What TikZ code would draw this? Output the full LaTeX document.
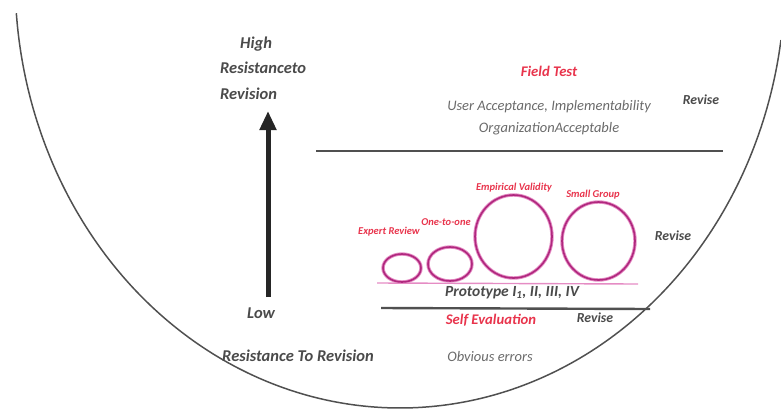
\documentclass[tikz,border=0pt]{standalone}
\usepackage{fontspec}
\setmainfont{Carlito}
\usetikzlibrary{arrows.meta}
\definecolor{txtgray}{HTML}{4A4A4A}
\definecolor{softgray}{HTML}{6A6A6A}
\definecolor{labred}{HTML}{E8344C}
\definecolor{loopmag}{HTML}{B0287E}
\definecolor{looppink}{HTML}{E58CC4}
\definecolor{linegray}{HTML}{505050}

\begin{document}
\begin{tikzpicture}[x=1pt, y=-1pt]
    \useasboundingbox (0,0) rectangle (781,410);
    \tikzstyle{every node}=[inner sep=0pt, text=txtgray, font=\fontsize{16.5}{25.5}\selectfont\bfseries\itshape]
    \tikzstyle{revise}=[font=\fontsize{13.8}{16}\selectfont\bfseries\itshape]
    \tikzstyle{stage}=[text=labred, font=\fontsize{14.7}{17}\selectfont\bfseries\itshape]
    \tikzstyle{looplabel}=[text=labred, font=\fontsize{10.5}{12}\selectfont\bfseries\itshape]
    \tikzstyle{note}=[text=softgray, font=\fontsize{14.5}{22}\selectfont\itshape]
    \tikzstyle{loop}=[draw=loopmag, line width=1.6pt]
    \tikzstyle{loophalo}=[draw=looppink, line width=3.4pt]
    \tikzstyle{rule}=[draw=linegray, line width=2.4pt]
    % bowl
    \draw[linegray, line width=1.5pt] plot[domain=8.3:175.3, samples=90, smooth] ({400+385*cos(\x)}, {-22+430*sin(\x)});
    % left side
    \node[anchor=west, align=left] (high) at (220,68) {\hspace*{20pt}High\\Resistanceto\\Revision};
    \node (low) at (261,313) {Low};
    \node (resist) at (298,356) {Resistance To Revision};
    \coordinate (arrbot) at (268,297);
    \coordinate (arrtop) at (268,111);
    \draw[-{Triangle[length=19pt, width=16pt]}, line width=5pt, black!85] (arrbot) -- (arrtop);
    % field test
    \node[stage] (field) at (549,71) {Field Test};
    \node[note, align=center] (user) at (549,118) {User Acceptance, Implementability\\OrganizationAcceptable};
    \node[revise] (revise1) at (701,100) {Revise};
    \coordinate (rule1a) at (316,151);
    \coordinate (rule1b) at (723,151);
    \draw[rule] (rule1a) -- (rule1b);
    % loops
    \coordinate (basea) at (377,283);
    \coordinate (baseb) at (638,284);
    \draw[looppink, line width=1.4pt] (basea) -- (baseb);
    \draw[loophalo] (402,268) ellipse [x radius=19, y radius=14];
    \draw[loop] (402,268) ellipse [x radius=19, y radius=14];
    \draw[loophalo] (450,264) ellipse [x radius=22, y radius=17];
    \draw[loop] (450,264) ellipse [x radius=22, y radius=17];
    \draw[loophalo] (513.5,236.5) ellipse [x radius=38.5, y radius=41.5];
    \draw[loop] (513.5,236.5) ellipse [x radius=38.5, y radius=41.5];
    \draw[loophalo] (598.5,241) ellipse [x radius=36.5, y radius=39];
    \draw[loop] (598.5,241) ellipse [x radius=36.5, y radius=39];
    \node[looplabel] (expert) at (389,232) {Expert Review};
    \node[looplabel] (onetoone) at (446,222) {One-to-one};
    \node[looplabel] (empirical) at (514,188) {Empirical Validity};
    \node[looplabel] (smallgroup) at (593,195) {Small Group};
    \node[revise] (revise2) at (673,236) {Revise};
    \node[font=\fontsize{15.5}{18}\selectfont\bfseries\itshape] (proto) at (512,293) {Prototype I\textsubscript{1}, II, III, IV};
    % self evaluation
    \coordinate (rule2a) at (381,308);
    \coordinate (rule2b) at (650,309);
    \draw[rule] (rule2a) -- (rule2b);
    \node[stage] (selfeval) at (491,320) {Self Evaluation};
    \node[revise] (revise3) at (595,318) {Revise};
    \node[note] (obvious) at (490,357) {Obvious errors};
\end{tikzpicture}
\end{document}
